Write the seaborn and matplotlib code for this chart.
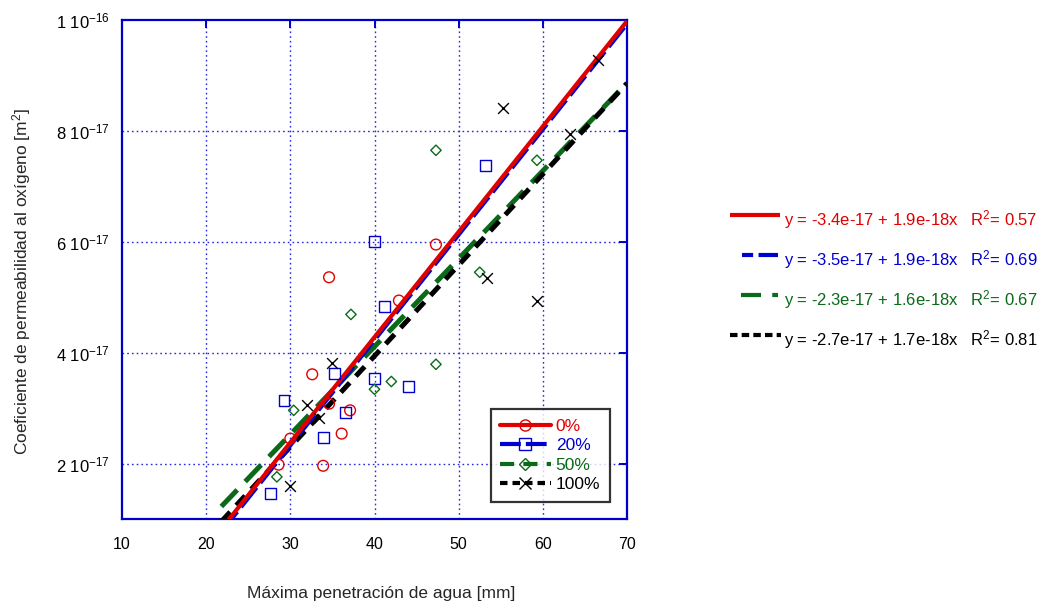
import numpy as np
import pandas as pd
import matplotlib
matplotlib.use("Agg")
import matplotlib.pyplot as plt
from matplotlib.lines import Line2D
import seaborn as sns

# ---- data (y in units of 1e-17 m^2) ----
x_0 = [34.6, 47.3, 42.9, 32.6, 34.6, 37.1, 36.1, 33.9, 28.6, 30.0]
y_0 = [5.36, 5.95, 4.94, 3.61, 3.08, 2.96, 2.54, 1.96, 1.98, 2.45]
x_20 = [40.0, 53.2, 41.2, 35.3, 40.0, 44.0, 29.25, 36.6, 33.9, 27.6]
y_20 = [6.00, 7.38, 4.83, 3.63, 3.54, 3.39, 3.14, 2.92, 2.47, 1.46]
x_50 = [47.3, 59.3, 52.5, 37.2, 47.3, 42.0, 40.0, 30.4, 28.4]
y_50 = [7.65, 7.47, 5.45, 4.69, 3.79, 3.48, 3.34, 2.96, 1.76]
x_100 = [66.6, 55.3, 63.2, 53.4, 59.3, 34.9, 31.95, 33.4, 30.0]
y_100 = [9.28, 8.42, 7.94, 5.34, 4.93, 3.81, 3.06, 2.83, 1.60]

series = ["0%", "20%", "50%", "100%"]
# fitted lines (intercept, slope) in units of 1e-17
intercepts = [-3.32, -3.36, -2.23, -2.62]
slopes = [0.190, 0.190, 0.1585, 0.164]
fit_range = [21.8, 70.0]
equations = ["y = -3.4e-17 + 1.9e-18x", "y = -3.5e-17 + 1.9e-18x",
             "y = -2.3e-17 + 1.6e-18x", "y = -2.7e-17 + 1.7e-18x"]
r2_values = ["0.57", "0.69", "0.67", "0.81"]

x_ticks = [10, 20, 30, 40, 50, 60, 70]
y_ticks = [2, 4, 6, 8, 10]
y_tick_labels = ["2 10$^{-17}$", "4 10$^{-17}$", "6 10$^{-17}$", "8 10$^{-17}$", "1 10$^{-16}$"]

# ---- styling ----
sns.set_style("white")
plt.rcParams['font.family'] = ['Liberation Sans', 'DejaVu Sans']
plt.rcParams['mathtext.fontset'] = 'custom'
plt.rcParams['mathtext.rm'] = 'Liberation Sans'
plt.rcParams['mathtext.it'] = 'Liberation Sans'

colors = ["#e00000", "#0000d0", "#0a6a1a", "#000000"]
markers = ["o", "s", "D", "x"]
msizes = [60, 62, 28, 60]
plot_dashes = [None, (5, 1.2), (4.6, 2.3), (2.6, 1.8)]
lws = [3.0, 3.6, 3.6, 3.6]

xs_all = [x_0, x_20, x_50, x_100]
ys_all = [y_0, y_20, y_50, y_100]

frames = []
for s, xv, yv in zip(series, xs_all, ys_all):
    frames.append(pd.DataFrame({"x": xv, "y": yv, "serie": s}))
df = pd.concat(frames, ignore_index=True)

fig = plt.figure(figsize=(10.46, 6.08), dpi=100)
ax = fig.add_axes([122/1046, 1 - 519/608, 505/1046, 499/608])

grid_color = "#2a2ae0"
ax.set_axisbelow(True)
for xt in x_ticks[1:-1]:
    ax.axvline(xt, color=grid_color, lw=1.0, ls=(0, (1.2, 2.2)), zorder=0)
for yt in y_ticks[:-1]:
    ax.axhline(yt, color=grid_color, lw=1.0, ls=(0, (1.2, 2.2)), zorder=0)

# fit lines
line_z = {0: 4, 1: 3.5, 2: 3, 3: 3.2}
for i in [2, 3, 0, 1]:
    xl = np.array(fit_range)
    yl = intercepts[i] + slopes[i] * xl
    ldf = pd.DataFrame({"x": xl, "y": yl})
    sns.lineplot(data=ldf, x="x", y="y", ax=ax, color=colors[i], lw=lws[i],
                 zorder=line_z[i], legend=False)
    ln = ax.lines[-1]
    if plot_dashes[i] is not None:
        ln.set_dashes(plot_dashes[i])
    ln.set_solid_capstyle("butt")
    ln.set_dash_capstyle("butt")

# points
for i, s in enumerate(series):
    sub = df[df["serie"] == s]
    if markers[i] == "x":
        sns.scatterplot(data=sub, x="x", y="y", ax=ax, marker="x", color=colors[i],
                        s=msizes[i], linewidth=1.0, zorder=5, legend=False)
    else:
        sns.scatterplot(data=sub, x="x", y="y", ax=ax, marker=markers[i],
                        facecolor="none", edgecolor=colors[i], s=msizes[i],
                        linewidth=1.0, zorder=5, legend=False)

ax.set_xlim(10, 70)
ax.set_ylim(1, 10)
ax.set_xticks(x_ticks)
ax.set_xticklabels([str(v) for v in x_ticks], fontsize=11.5)
ax.set_yticks(y_ticks)
ax.set_yticklabels(y_tick_labels, fontsize=12)
spine_color = "#0000c8"
for sp in ax.spines.values():
    sp.set_color(spine_color)
    sp.set_linewidth(1.6)
    sp.set_visible(True)
ax.tick_params(axis="both", direction="in", length=6, width=1.4, color=spine_color,
               top=True, right=True, labelcolor="black")
ax.tick_params(axis="x", pad=13)
ax.tick_params(axis="y", pad=9)

ax.set_xlabel("Máxima penetración de agua [mm]", fontsize=12.5)
ax.set_ylabel("Coeficiente de permeabilidad al oxígeno [m$^2$]", fontsize=12.5)
ax.xaxis.set_label_coords(0.513, -0.134)
ax.yaxis.set_label_coords(-0.176, 0.477)

# legend
leg_dashes = [None, (5, 1.2), (3.4, 2.2), (1.8, 1.2)]
handles = []
for i, s in enumerate(series):
    h = Line2D([0], [0], color=colors[i], lw=3.0, marker=markers[i],
               markerfacecolor="none", markeredgecolor=colors[i], markersize=8 if i != 2 else 6,
               markeredgewidth=1.0)
    if leg_dashes[i] is not None:
        h.set_dashes(leg_dashes[i])
    handles.append(h)
leg = ax.legend(handles, series, loc="lower right", bbox_to_anchor=(0.966, 0.034),
                borderaxespad=0, fontsize=12.5, frameon=True, fancybox=False,
                handlelength=2.9, handletextpad=0.3, labelspacing=0.25,
                borderpad=0.55)
leg.get_frame().set_edgecolor("black")
leg.get_frame().set_linewidth(1.6)
for t, c in zip(leg.get_texts(), colors):
    t.set_color(c)

# equations on the right
row_y = [220, 260, 300, 340]
seg_x = [(730, 780), (742, 778), (741, 778), (730, 781)]
seg_ls = ["-", (2.33, (5, 1.3)), (0, (4.8, 2.7)), (0, (1.8, 1.0))]
for i in range(4):
    ypx = row_y[i]
    yf = 1 - ypx / 608
    seg = Line2D([seg_x[i][0]/1046, seg_x[i][1]/1046], [yf + 5/608, yf + 5/608],
                 transform=fig.transFigure, color=colors[i], lw=3.0, ls=seg_ls[i],
                 solid_capstyle="butt", dash_capstyle="butt")
    fig.add_artist(seg)
    fig.text(784/1046, yf, equations[i] + "   R$^2$= " + r2_values[i],
             color=colors[i], fontsize=12, va="center", ha="left")

fig.savefig("out.png", dpi=100)
